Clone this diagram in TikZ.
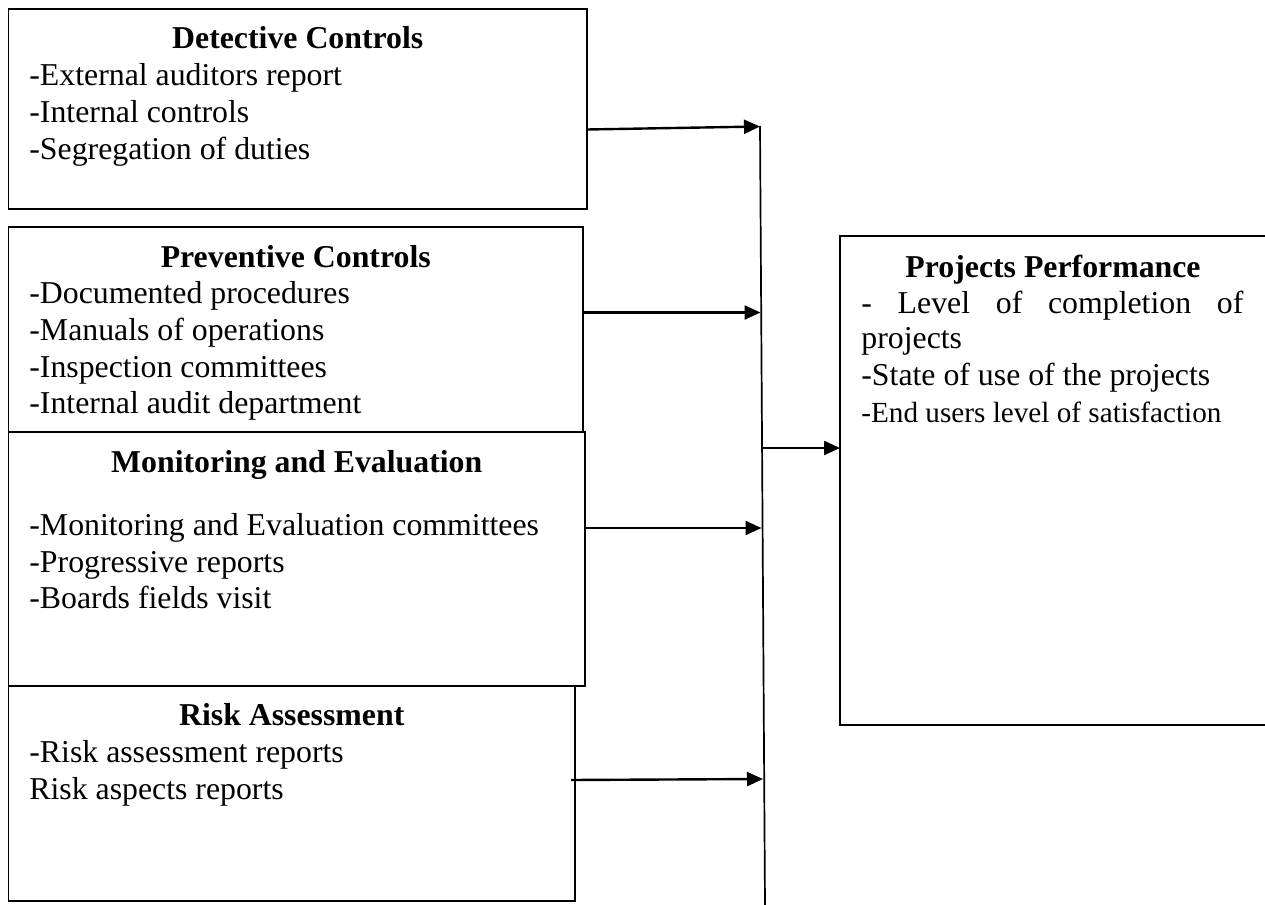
\documentclass[tikz,border=0pt]{standalone}
\usepackage{fontspec}
\setmainfont{Liberation Serif}
\usetikzlibrary{arrows.meta}
\tikzset{
  box/.style={draw, line width=0.85pt, inner sep=0pt, outer sep=0pt, anchor=north west},
  txt/.style={inner sep=0pt, anchor=base west, font=\fontsize{15.9}{18.5}\selectfont},
  smalltxt/.style={inner sep=0pt, anchor=base west, font=\fontsize{14.6}{17}\selectfont},
  ttl/.style={inner sep=0pt, anchor=base, font=\fontsize{15.9}{18.5}\selectfont\bfseries},
  arr/.style={line width=1.2pt, -{Triangle[length=8pt,width=7pt]}},
  bus/.style={line width=0.85pt}
}
\begin{document}
\begin{tikzpicture}[x=0.5pt,y=-0.5pt]
\useasboundingbox (0,0) rectangle (1265,905);
% boxes
\node[box, minimum width=289.25pt, minimum height=100pt] (det) at (8.5,9) {};
\node[box, minimum width=287.25pt, minimum height=102.5pt] (prev) at (8.5,227) {};
\node[box, minimum width=288.25pt, minimum height=127pt, fill=white] (mon) at (8.5,432) {};
\node[box, minimum width=283.25pt, minimum height=107.5pt, fill=white] (risk) at (8.5,686) {};
\node[box, draw=none, minimum width=213pt, minimum height=244.5pt] (pp) at (840,236) {};
\draw[line width=0.85pt] (pp.north east) -- (pp.north west) -- (pp.south west) -- (pp.south east);
% Detective
\node[ttl] (dtt) at (det.north |- 0,48) {Detective Controls};
\node[txt] (d1) at (29,85) {-External auditors report};
\node[txt] (d2) at (29,122) {-Internal controls};
\node[txt] (d3) at (29,159) {-Segregation of duties};
% Preventive
\node[ttl] (ptt) at (prev.north |- 0,267) {Preventive Controls};
\node[txt] (p1) at (29,303) {-Documented procedures};
\node[txt] (p2) at (29,340) {-Manuals of operations};
\node[txt] (p3) at (29,377) {-Inspection committees};
\node[txt] (p4) at (29,413) {-Internal audit department};
% Monitoring
\node[ttl] (mtt) at (mon.north |- 0,472) {Monitoring and Evaluation};
\node[txt] (m1) at (29,535) {-Monitoring and Evaluation committees};
\node[txt] (m2) at (29,572) {-Progressive reports};
\node[txt] (m3) at (29,608) {-Boards fields visit};
% Risk
\node[ttl] (rtt) at (risk.north |- 0,725) {Risk Assessment};
\node[txt] (r1) at (29,762) {-Risk assessment reports};
\node[txt] (r2) at (29,799) {Risk aspects reports};
% Projects performance
\node[ttl] (qtt) at (pp.north |- 0,277) {Projects Performance};
\node[txt] (q1) at (861,313) {\makebox[191pt][s]{-\ Level of completion of}};
\node[txt] (q2) at (861,348) {projects};
\node[txt] (q3) at (861,385) {-State of use of the projects};
\node[smalltxt] (q4) at (861,422) {-End users level of satisfaction};
% bus
\coordinate (bt) at (760,126);
\coordinate (bb) at (765,905);
\draw[bus] (bt) -- (bb);
\coordinate (b1) at (760,126.5);
\coordinate (b2) at (760.5,312.5);
\coordinate (b3) at (761.5,528);
\coordinate (b4) at (763,779);
\coordinate (bp) at (762,448);
\draw[arr] (det.east |- 0,129.5) -- (b1);
\draw[arr] (prev.east |- b2) -- (b2);
\draw[arr] (mon.east |- b3) -- (b3);
\draw[arr] (571,780) -- (b4);
\draw[arr] (bp) -- (bp -| pp.west);
\end{tikzpicture}
\end{document}
